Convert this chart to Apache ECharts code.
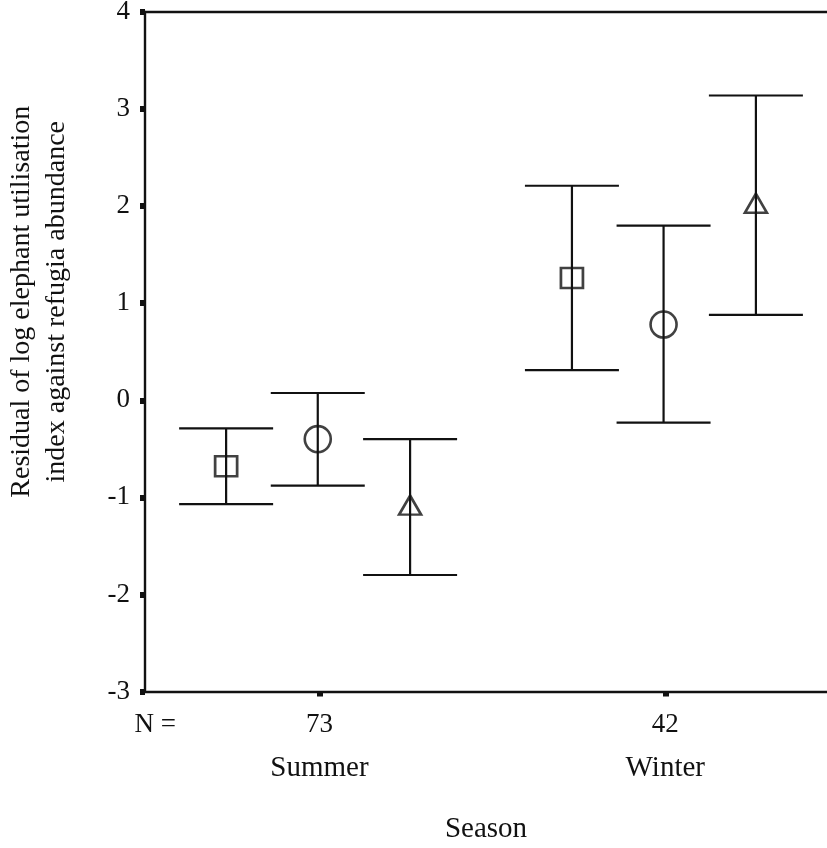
<!DOCTYPE html>
<html>
<head>
<meta charset="utf-8">
<script src="https://cdn.jsdelivr.net/npm/echarts@6/dist/echarts.min.js"></script>
<style>html,body{margin:0;padding:0;background:#fff}#c{width:827px;height:848px}</style>
</head>
<body>
<div id="c"></div>
<script>
// ---- data ----
var categories = ['Summer', 'Winter'];
var nLabels = ['73', '42'];
var yTicks = [-3, -2, -1, 0, 1, 2, 3, 4];
// groups (marker shapes): square, circle, triangle
var squareMean  = [-0.68, 1.26];
var squareUpper = [-0.29, 2.21];
var squareLower = [-1.07, 0.31];
var circleMean  = [-0.40, 0.78];
var circleUpper = [0.075, 1.80];
var circleLower = [-0.88, -0.23];
var triMean     = [-1.08, 2.03];
var triUpper    = [-0.40, 3.14];
var triLower    = [-1.80, 0.88];

// ---- layout constants ----
var dodge = { square: -0.27, circle: -0.005, triangle: 0.262 };
var FONT = '"Liberation Serif", "Times New Roman", serif';
var INK = '#111111';

function pts(means, off) {
  return means.map(function (m, i) { return [i + 1 + off, m]; });
}
function bars(lo, hi, off) {
  return lo.map(function (l, i) { return [i + 1 + off, l, hi[i]]; });
}
function errRender(params, api) {
  var x = api.value(0);
  var lo = api.coord([x, api.value(1)]);
  var hi = api.coord([x, api.value(2)]);
  var hw = 47;
  var st = { stroke: INK, lineWidth: 2.2 };
  return {
    type: 'group',
    children: [
      { type: 'line', shape: { x1: lo[0], y1: lo[1], x2: hi[0], y2: hi[1] }, style: st },
      { type: 'line', shape: { x1: lo[0] - hw, y1: lo[1], x2: lo[0] + hw, y2: lo[1] }, style: st },
      { type: 'line', shape: { x1: hi[0] - hw, y1: hi[1], x2: hi[0] + hw, y2: hi[1] }, style: st }
    ]
  };
}
function errSeries(lo, hi, off) {
  return { type: 'custom', renderItem: errRender, data: bars(lo, hi, off), z: 2, silent: true,
           encode: { x: 0, y: [1, 2] } };
}
function markSeries(means, off, symbol, size) {
  return { type: 'scatter', data: pts(means, off), symbol: symbol, symbolSize: size, z: 3,
           itemStyle: { color: 'rgba(0,0,0,0)', borderColor: INK, borderWidth: 2.6 } };
}

var chart = echarts.init(document.getElementById('c'));
var xMin = 0.4954, xMax = 2.4676;
var nPos = 0.525;
chart.setOption({
  animation: false,
  backgroundColor: '#fff',
  grid: { left: 145, right: 0, top: 12, bottom: 156.5, containLabel: false, outerBoundsMode: 'none' },
  xAxis: [{
    type: 'value', min: xMin, max: xMax,
    name: 'Season', nameLocation: 'middle', nameGap: 123,
    nameTextStyle: { fontFamily: FONT, fontSize: 29, color: INK },
    axisLine: { show: true, onZero: false, lineStyle: { color: INK, width: 2.4 } },
    splitLine: { show: false },
    axisTick: { show: true, customValues: [1, 2], length: 5, inside: false, lineStyle: { color: INK, width: 6 } },
    axisLabel: {
      show: true, customValues: [nPos, 1, 2], margin: 11,
      formatter: function (v) {
        if (Math.abs(v - nPos) < 1e-6) return '{n|N =}\n{s| }';
        var i = Math.round(v) - 1;
        return '{n|' + nLabels[i] + '}\n{s|' + categories[i] + '}';
      },
      rich: {
        n: { fontFamily: FONT, fontSize: 27, color: INK, lineHeight: 44 },
        s: { fontFamily: FONT, fontSize: 29, color: INK, lineHeight: 44 }
      }
    }
  }, {
    type: 'value', min: xMin, max: xMax, position: 'top',
    axisLine: { show: true, onZero: false, lineStyle: { color: INK, width: 2.4 } },
    axisTick: { show: false }, axisLabel: { show: false }, splitLine: { show: false }
  }],
  yAxis: {
    type: 'value', min: -3, max: 4, interval: 1,
    name: 'Residual of log elephant utilisation\nindex against refugia abundance',
    nameLocation: 'middle', nameGap: 71, nameRotate: 90,
    nameTextStyle: { fontFamily: FONT, fontSize: 28, color: INK, lineHeight: 35, padding: [0, 0, 0, 100] },
    axisLine: { show: true, onZero: false, lineStyle: { color: INK, width: 2.4 } },
    splitLine: { show: false },
    axisTick: { show: true, length: 5, inside: false, lineStyle: { color: INK, width: 6 } },
    axisLabel: { fontFamily: FONT, fontSize: 27, color: INK, margin: 15, padding: [6, 0, 0, 0],
                 formatter: function (v) { return yTicks.indexOf(v) >= 0 ? String(v) : ''; } }
  },
  series: [
    errSeries(squareLower, squareUpper, dodge.square),
    errSeries(circleLower, circleUpper, dodge.circle),
    errSeries(triLower, triUpper, dodge.triangle),
    markSeries(squareMean, dodge.square, 'rect', [22, 20]),
    markSeries(circleMean, dodge.circle, 'circle', 26),
    markSeries(triMean, dodge.triangle, 'triangle', [22, 19])
  ]
});
</script>
</body>
</html>
